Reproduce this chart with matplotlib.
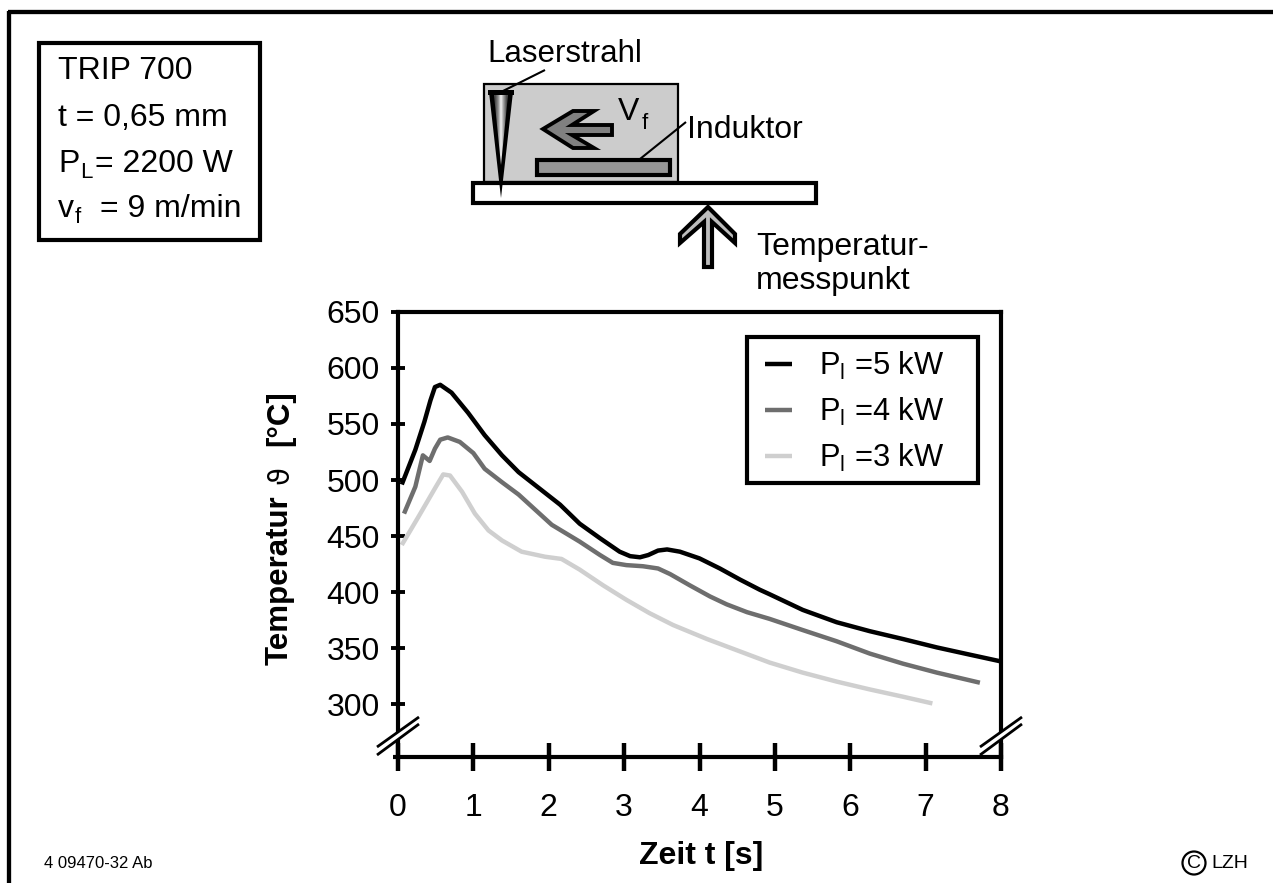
import matplotlib
matplotlib.use("Agg")
import matplotlib.pyplot as plt
from matplotlib.patches import Rectangle, Polygon, Circle

plt.rcParams['font.family'] = ['Liberation Sans', 'DejaVu Sans']
plt.rcParams['mathtext.fontset'] = 'custom'
plt.rcParams['mathtext.rm'] = 'Liberation Sans'

t5 = [0.05,0.23,0.35,0.43,0.49,0.56,0.71,0.93,1.15,1.38,1.6,2.15,2.41,2.68,2.94,3.08,3.21,3.32,3.45,3.57,3.74,4.0,4.27,4.54,4.8,4.93,5.37,5.82,6.26,6.7,7.15,7.59,8.0]
T5 = [496,527,552,571,583,585,578,560,540,522,507,478,461,448,436,432,431,433,437,438,436,430,421,411,402,398,384,373,365,358,350.5,344,338]
t4 = [0.08,0.23,0.33,0.42,0.49,0.56,0.66,0.82,1.0,1.15,1.38,1.6,2.04,2.41,2.68,2.85,3.03,3.25,3.45,3.61,3.87,4.14,4.36,4.63,4.93,5.37,5.82,6.26,6.7,7.15,7.72]
T4 = [470,494,522,517,528,536,538,534,524,510,498,487,460,445,433,426,424,423,421,416,406,396,389,382,376,366,356,345,336,328,319]
t3 = [0.05,0.27,0.49,0.6,0.69,0.85,1.02,1.2,1.38,1.64,1.95,2.17,2.41,2.72,3.03,3.34,3.65,4.1,4.93,5.37,5.82,6.26,6.7,7.09]
T3 = [442,467,492.5,505,504,489.5,470,455,446,436,431.5,429.5,420,406,393,381,370.5,358,337,328,320,313,306.5,300.5]
xticks = [0,1,2,3,4,5,6,7,8]
yticks = [300,350,400,450,500,550,600,650]

W, H = 1273, 883
fig = plt.figure(figsize=(W/100, H/100), dpi=100, facecolor='white')

# overlay in pixel coordinates
o = fig.add_axes([0, 0, 1, 1], zorder=0)
o.set_xlim(0, W); o.set_ylim(H, 0); o.axis('off')

# main axes
L, R, T, B = 398, 1001, 312, 757
ax = fig.add_axes([L/W, 1-B/H, (R-L)/W, (B-T)/H], zorder=2, facecolor='none')
ax.set_xlim(0, 8)
ax.set_ylim(300-(B-704)/56*50, 650)
for s in ax.spines.values():
    s.set_linewidth(3.0); s.set_color('black')
ax.set_xticks(xticks); ax.set_yticks(yticks)
ax.tick_params(axis='x', direction='inout', length=20, width=3.2, labelsize=23, pad=16)
ax.tick_params(axis='y', direction='inout', length=10, width=2.8, labelsize=23, pad=8)
ax.plot(t3, T3, color='#cfcfcf', lw=3.2, solid_joinstyle='round', solid_capstyle='butt', label='P$_{\\mathrm{l}}$ =3 kW')
ax.plot(t4, T4, color='#6e6e6e', lw=3.2, solid_joinstyle='round', solid_capstyle='butt', label='P$_{\\mathrm{l}}$ =4 kW')
ax.plot(t5, T5, color='black', lw=3.2, solid_joinstyle='round', solid_capstyle='butt', label='P$_{\\mathrm{l}}$ =5 kW')
handles, labels = ax.get_legend_handles_labels()
leg = ax.legend(handles[::-1], labels[::-1], loc='upper left',
                bbox_to_anchor=((747-L)/(R-L), 1-(332-T)/(B-T)), fontsize=22.2,
                frameon=False, borderaxespad=0, handlelength=0.9, handletextpad=0.88,
                labelspacing=0.46, borderpad=0.57)

# top overlay for breaks and annotations
p = fig.add_axes([0, 0, 1, 1], zorder=3, facecolor='none')
p.set_xlim(0, W); p.set_ylim(H, 0); p.axis('off')

def line(a, xs, ys, lw=1.5, c='black', z=5):
    a.plot(xs, ys, color=c, lw=lw, solid_capstyle='butt', zorder=z)

p.add_patch(Rectangle((746.5, 337), 231, 146, fc='none', ec='black', lw=3.0, zorder=3))
line(p, [393, 398], [757, 757], lw=3)
for cx in (L, R):
    p.add_patch(Polygon([[cx-21, 747], [cx+21, 717], [cx+21, 724], [cx-21, 755]], closed=True, fc='white', ec='none', zorder=4))
    line(p, [cx-21, cx+21], [747, 717], lw=2.0)
    line(p, [cx-21, cx+21], [755, 724], lw=2.0)

# frame
line(o, [7.5, W], [12, 12], lw=3.1)
line(o, [9, 9], [10.5, H], lw=3.1)

# parameter box
o.add_patch(Rectangle((38.5, 43), 221.5, 196.5, fc='white', ec='black', lw=3.0))
fs = 23
o.text(58, 79, 'TRIP 700', fontsize=fs, va='baseline')
o.text(58, 126, 't = 0,65 mm', fontsize=fs, va='baseline')
o.text(58, 172, 'P', fontsize=fs, va='baseline')
o.text(80, 178, 'L', fontsize=16, va='baseline')
o.text(95, 172, '= 2200 W', fontsize=fs, va='baseline')
o.text(58, 217, 'v', fontsize=fs, va='baseline')
o.text(75, 223, 'f', fontsize=16, va='baseline')
o.text(100, 217, '= 9 m/min', fontsize=fs, va='baseline')

# process sketch
o.add_patch(Rectangle((484, 84), 194, 98, fc='#cccccc', ec='black', lw=1.6, zorder=1))
o.add_patch(Rectangle((473, 183), 343, 20, fc='white', ec='black', lw=3, zorder=2))
o.add_patch(Rectangle((537, 160), 133, 15, fc='#969696', ec='black', lw=3, zorder=2))
# laser cone
o.add_patch(Rectangle((488, 90), 26, 5, fc='black', ec='none', zorder=3))
o.add_patch(Polygon([[489, 92], [513, 92], [501, 198]], closed=True, fc='black', ec='none', zorder=3))
cone = Polygon([[494, 95], [508, 95], [501, 165]], closed=True, fc='none', ec='none', zorder=3.1, transform=o.transData)
o.add_patch(cone)
im = o.imshow([[0.3, 0.55, 0.95, 0.6, 0.3]], extent=(494, 508, 165, 95), cmap='gray', vmin=0, vmax=1,
              aspect='auto', zorder=3.1, interpolation='bilinear')
im.set_clip_path(cone)
o.set_xlim(0, W); o.set_ylim(H, 0)
line(o, [503, 545], [91, 70], lw=1.5, z=4)
line(o, [640, 686], [159, 122], lw=1.5, z=4)
# feed arrow
o.add_patch(Polygon([[543, 129], [573, 111], [594, 111], [572, 125], [612, 125], [612, 135], [572, 135], [594, 148], [573, 148]],
                    closed=True, fc='#808080', ec='black', lw=2.8, joinstyle='miter', zorder=3))
# up arrow
o.add_patch(Polygon([[708, 207], [735, 234], [735, 243], [712, 222], [712, 267], [704, 267], [704, 222], [680, 243], [680, 234]],
                    closed=True, fc='#bdbdbd', ec='black', lw=3, joinstyle='miter', zorder=3))

o.text(487, 62, 'Laserstrahl', fontsize=22.5, va='baseline')
o.text(618, 120, 'V', fontsize=23, va='baseline')
o.text(642, 129, 'f', fontsize=16, va='baseline', zorder=5)
o.text(687, 138, 'Induktor', fontsize=23, va='baseline')
o.text(756, 255, 'Temperatur-', fontsize=23, va='baseline')
o.text(756, 289, 'messpunkt', fontsize=23, va='baseline')

# axis titles
o.text(288, 665, 'Temperatur', fontsize=22.5, fontweight='bold', rotation=90, ha='left', va='baseline',
       rotation_mode='anchor')
o.text(701, 856, 'Zeit t [s]', fontsize=23, fontweight='bold', ha='center', va='center')
o.text(288, 484, '\u03d1', fontsize=21, rotation=90, ha='left', va='baseline', rotation_mode='anchor',
       family=['DejaVu Sans'])
o.text(288, 446, '[\u00b0C]', fontsize=22.5, fontweight='bold', rotation=90, ha='left', va='baseline',
       rotation_mode='anchor')

# footer
o.text(44, 864, '4 09470-32 Ab', fontsize=12, va='center')
o.add_patch(Circle((1194, 863), 11.5, fc='none', ec='black', lw=1.6))
o.text(1194, 863, 'C', fontsize=14, ha='center', va='center')
o.text(1211, 864, 'LZH', fontsize=14, va='center')

fig.savefig('out.png', dpi=100)
